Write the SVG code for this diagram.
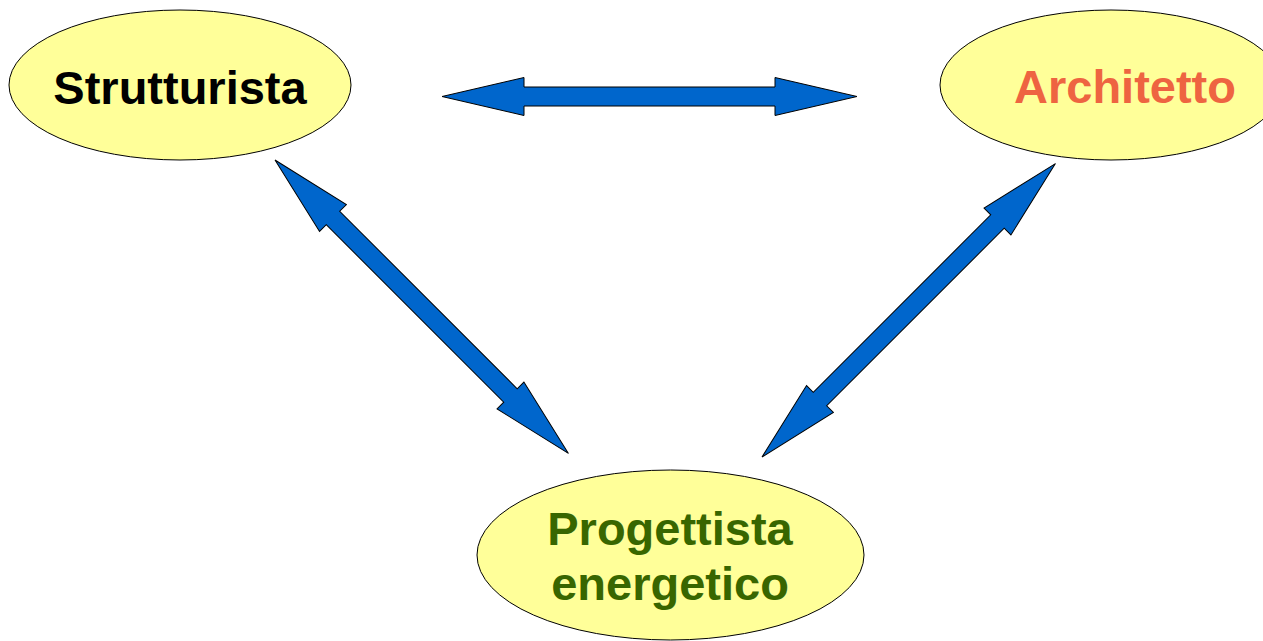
<svg xmlns="http://www.w3.org/2000/svg" width="1263" height="641" viewBox="0 0 1263 641">
<defs>
<style>
.node ellipse{fill:#ffff99;stroke:#000;stroke-width:1}
.lbl{font-family:"Liberation Sans",Arial,sans-serif;font-weight:bold;font-size:47px;text-anchor:middle}
.arrow{fill:#0066cc;stroke:#000;stroke-width:1;stroke-linejoin:miter}
</style>
<polygon id="dbl" points="0,0 82,-19 82,-9.5 333,-9.5 333,-19 415,0 333,19 333,9.5 82,9.5 82,19"/>
</defs>
<rect width="1263" height="641" fill="#fff"/>
<g id="strutturista" class="node">
<ellipse cx="180" cy="85" rx="171" ry="75"/>
<text class="lbl" x="180" y="104" fill="#000">Strutturista</text>
</g>
<g id="architetto" class="node">
<ellipse cx="1111" cy="85" rx="171" ry="75"/>
<text class="lbl" x="1125" y="103" fill="#ee6441">Architetto</text>
</g>
<g id="progettista" class="node">
<ellipse cx="670.5" cy="555" rx="193.5" ry="85"/>
<text class="lbl" x="670" y="545" fill="#386600">Progettista</text>
<text class="lbl" x="670" y="600" fill="#386600">energetico</text>
</g>
<g id="connectors">
<use href="#dbl" class="arrow" transform="translate(442,96.5)"/>
<use href="#dbl" class="arrow" transform="translate(275,160) rotate(45)"/>
<use href="#dbl" class="arrow" transform="translate(762,457) rotate(-45)"/>
</g>
</svg>
